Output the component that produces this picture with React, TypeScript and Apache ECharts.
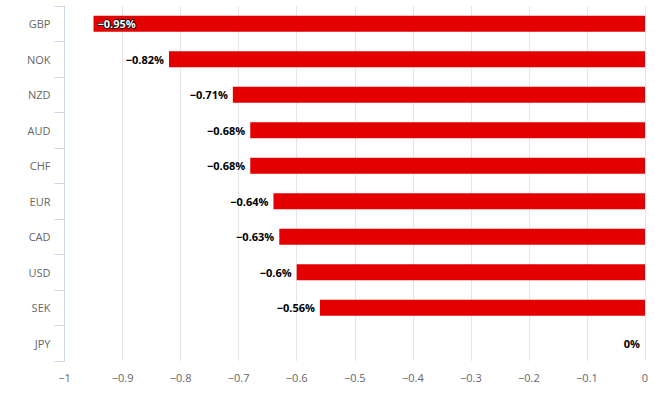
import React, { useEffect, useRef } from "react";
import * as echarts from "echarts";

const categories = ["GBP", "NOK", "NZD", "AUD", "CHF", "EUR", "CAD", "USD", "SEK", "JPY"];
const values = [-0.95, -0.82, -0.71, -0.68, -0.68, -0.64, -0.63, -0.6, -0.56, 0];
const insideLabelCategories = ["GBP"];

const fmt = (v: number) => (v < 0 ? "\u2212" + String(Math.abs(v)) : String(v));

export default function App() {
  const ref = useRef<HTMLDivElement>(null);
  useEffect(() => {
    if (!ref.current) return;
    const chart = echarts.init(ref.current, null, { renderer: "svg" });
    const font = "'Open Sans', sans-serif";
    chart.setOption({
      animation: false,
      grid: { left: 64.5, right: 10, top: 6, bottom: 32, containLabel: false },
      xAxis: {
        type: "value",
        min: -1,
        max: 0,
        interval: 0.1,
        axisLine: { show: false },
        axisTick: { show: false },
        splitLine: { show: true, lineStyle: { color: "#e6e6e6", width: 1 } },
        axisLabel: {
          color: "#666666",
          fontSize: 11,
          fontFamily: font,
          margin: 11,
          formatter: (v: number) => fmt(Math.round(v * 10) / 10),
        },
      },
      yAxis: {
        type: "category",
        data: categories,
        inverse: true,
        axisLine: { show: true, onZero: false, lineStyle: { color: "#ccd6eb", width: 1 } },
        axisTick: { show: true, length: 10, lineStyle: { color: "#ccd6eb" } },
        splitLine: { show: false },
        axisLabel: { color: "#666666", fontSize: 11, fontFamily: font, margin: 14 },
      },
      series: [
        {
          type: "bar",
          barWidth: 16,
          data: values.map((v, i) => {
            const inside = insideLabelCategories.includes(categories[i]);
            return {
              value: v,
              label: inside
                ? {
                    position: "insideLeft",
                    distance: 4,
                    color: "#ffffff",
                    textBorderColor: "#000000",
                    textBorderWidth: 1.5,
                  }
                : {
                    position: "left",
                    distance: 5,
                    color: "#000000",
                    textBorderColor: "#ffffff",
                    textBorderWidth: 2,
                  },
            };
          }),
          itemStyle: { color: "#e30000" },
          label: {
            show: true,
            fontSize: 11,
            fontWeight: "bold",
            fontFamily: font,
            formatter: (p: any) => fmt(p.value) + "%",
          },
        },
      ],
    });
    return () => chart.dispose();
  }, []);
  return <div ref={ref} style={{ width: 655, height: 393, position: "absolute", left: 0, top: 0 }} />;
}
